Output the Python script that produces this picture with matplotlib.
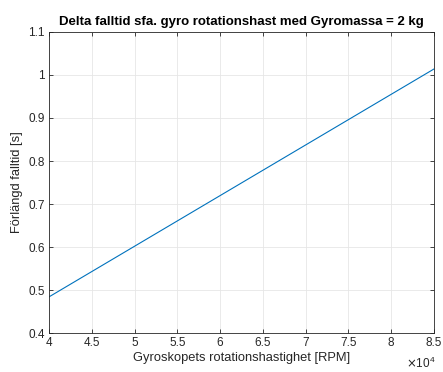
import matplotlib
matplotlib.use("Agg")
import matplotlib.pyplot as plt

# data
rpm = [40000, 85000]
delta_t = [0.484, 1.014]

x_ticks = [40000, 45000, 50000, 55000, 60000, 65000, 70000, 75000, 80000, 85000]
x_labels = ["4", "4.5", "5", "5.5", "6", "6.5", "7", "7.5", "8", "8.5"]
y_ticks = [0.4, 0.5, 0.6, 0.7, 0.8, 0.9, 1.0, 1.1]
y_labels = ["0.4", "0.5", "0.6", "0.7", "0.8", "0.9", "1", "1.1"]

plt.rcParams["font.family"] = ["Liberation Sans", "DejaVu Sans"]

fig = plt.figure(figsize=(4.43, 3.72), dpi=100)
ax = fig.add_axes([0.1106, 0.1048, 0.8691, 0.8092])

ax.plot(rpm, delta_t, color="#0072BD", linewidth=0.8)

ax.set_xlim(40000, 85000)
ax.set_ylim(0.4, 1.1)
ax.set_xticks(x_ticks)
ax.set_xticklabels(x_labels)
ax.set_yticks(y_ticks)
ax.set_yticklabels(y_labels)

ax.grid(True, color="#e6e6e6", linewidth=0.6)
ax.set_axisbelow(True)
ax.tick_params(direction="in", length=3, width=0.6, labelsize=8.5,
               colors="#262626", top=True, right=True, pad=3)
for s in ax.spines.values():
    s.set_color("#262626")
    s.set_linewidth(0.6)

ax.set_title("Delta falltid sfa. gyro rotationshast med Gyromassa = 2 kg",
             fontsize=9.5, fontweight="bold", pad=5)
ax.set_xlabel("Gyroskopets rotationshastighet [RPM]", fontsize=9.3, color="#262626", labelpad=2)
ax.set_ylabel("Förlängd falltid [s]", fontsize=9.3, color="#262626", labelpad=4)
ax.text(1.005, -0.075, r"$\times\mathregular{10^4}$", transform=ax.transAxes,
        ha="right", va="top", fontsize=8.5, color="#262626")

fig.savefig("out.png", dpi=100)
